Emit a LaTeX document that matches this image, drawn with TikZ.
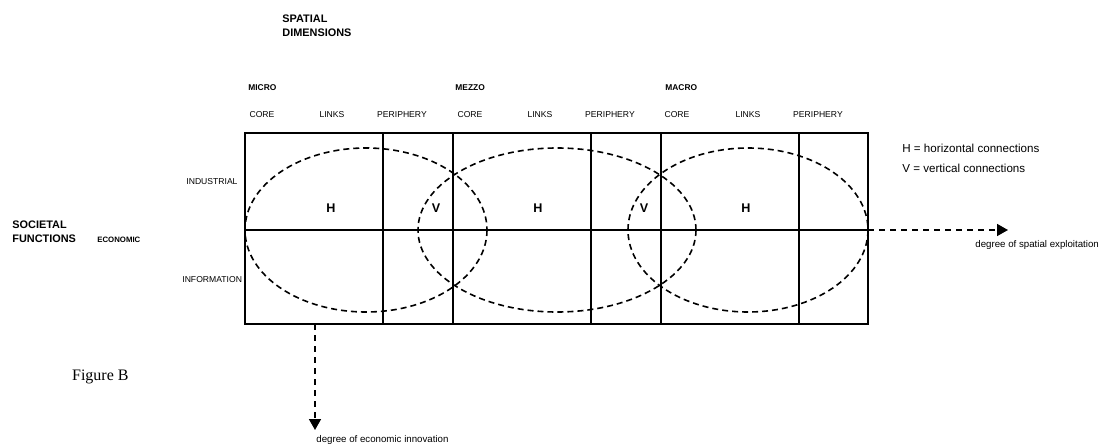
\documentclass[tikz,border=0pt]{standalone}
\usepackage{fontspec}
\setmainfont{Liberation Sans}
\newfontfamily\figfont{Liberation Serif}
\usetikzlibrary{arrows.meta}

\newcommand{\titlefont}{\fontsize{5.45}{7}\bfseries\selectfont}
\newcommand{\scalefont}{\fontsize{4.2}{5}\bfseries\selectfont}
\newcommand{\colfont}{\fontsize{4.3}{5}\selectfont}
\newcommand{\cellfont}{\fontsize{6.3}{7}\bfseries\selectfont}
\newcommand{\notefont}{\fontsize{5.8}{7}\selectfont}
\newcommand{\axisfont}{\fontsize{4.85}{6}\selectfont}

\begin{document}
\begin{tikzpicture}[x=0.5pt, y=-0.5pt, >={Triangle[length=5.5pt,width=6pt]}, line join=miter,
        grid/.style={line width=1.3pt},
        loop/.style={line width=0.8pt, dash pattern=on 3pt off 2pt},
        axis/.style={->, line width=0.8pt, dash pattern=on 3pt off 2.5pt},
        lbl/.style={inner sep=0pt, anchor=base west},
        colhead/.style={inner sep=0pt, anchor=base, font=\colfont}]
            \useasboundingbox (0,0) rectangle (1100,445);

            \coordinate (NW) at (245,133);
            \coordinate (SE) at (868,324);
            \coordinate (Wmid) at (245,230);
            \coordinate (Emid) at (868,230);
            \coordinate (Sfoot) at (315,324);
            \coordinate (Send) at (315,430);
            \coordinate (Eend) at (1008,230);

            \draw[grid] (NW) rectangle (SE);
            \draw[grid] (Wmid) -- (Emid);
            \foreach \x in {383,453,591,661,799}
                \draw[grid] (\x,133) -- (\x,324);

            \draw[loop] (366,230) ellipse [x radius=121, y radius=82];
            \draw[loop] (557,230) ellipse [x radius=139, y radius=82];
            \draw[loop] (748,230) ellipse [x radius=120, y radius=82];

            \draw[axis] (Emid) -- (Eend);
            \draw[axis] (Sfoot) -- (Send);

            \node[lbl, font=\titlefont] (spatial) at (282,22) {SPATIAL};
            \node[lbl, font=\titlefont] (dimensions) at (282,36.5) {DIMENSIONS};
            \node[lbl, font=\titlefont] (societal) at (12,228) {SOCIETAL};
            \node[lbl, font=\titlefont] (functions) at (12,242) {FUNCTIONS};
            \node[lbl, font=\fontsize{3.9}{5}\bfseries\selectfont] (economic) at (97,242) {ECONOMIC};
            \node[lbl, font=\colfont] (industrial) at (186,184) {INDUSTRIAL};
            \node[lbl, font=\colfont] (information) at (182,282) {INFORMATION};

            \node[lbl, font=\scalefont] (micro) at (248,90) {MICRO};
            \node[lbl, font=\scalefont] (mezzo) at (455,90) {MEZZO};
            \node[lbl, font=\scalefont] (macro) at (665,90) {MACRO};

            \node[colhead] (core1) at (262,117) {CORE};
            \node[colhead] (links1) at (332,117) {LINKS};
            \node[colhead] (peri1) at (402,117) {PERIPHERY};
            \node[colhead] (core2) at (470,117) {CORE};
            \node[colhead] (links2) at (540,117) {LINKS};
            \node[colhead] (peri2) at (610,117) {PERIPHERY};
            \node[colhead] (core3) at (677,117) {CORE};
            \node[colhead] (links3) at (748,117) {LINKS};
            \node[colhead] (peri3) at (818,117) {PERIPHERY};

            \node[inner sep=0pt, anchor=base, font=\cellfont] (h1) at (331,212) {H};
            \node[inner sep=0pt, anchor=base, font=\cellfont] (v1) at (436,212) {V};
            \node[inner sep=0pt, anchor=base, font=\cellfont] (h2) at (538,212) {H};
            \node[inner sep=0pt, anchor=base, font=\cellfont] (v2) at (644,212) {V};
            \node[inner sep=0pt, anchor=base, font=\cellfont] (h3) at (746,212) {H};

            \node[lbl, font=\notefont] (hnote) at (902,152) {H = horizontal connections};
            \node[lbl, font=\notefont] (vnote) at (902,172) {V = vertical connections};

            \node[lbl, font=\axisfont] (spacelbl) at (975,247) {degree of spatial exploitation};
            \node[lbl, font=\axisfont] (innolbl) at (316,442) {degree of economic innovation};

            \node[inner sep=0pt, anchor=base east, font=\figfont\fontsize{8}{9}\selectfont] (figlbl) at (129,380) {Figure B};

        \end{tikzpicture}
\end{document}
